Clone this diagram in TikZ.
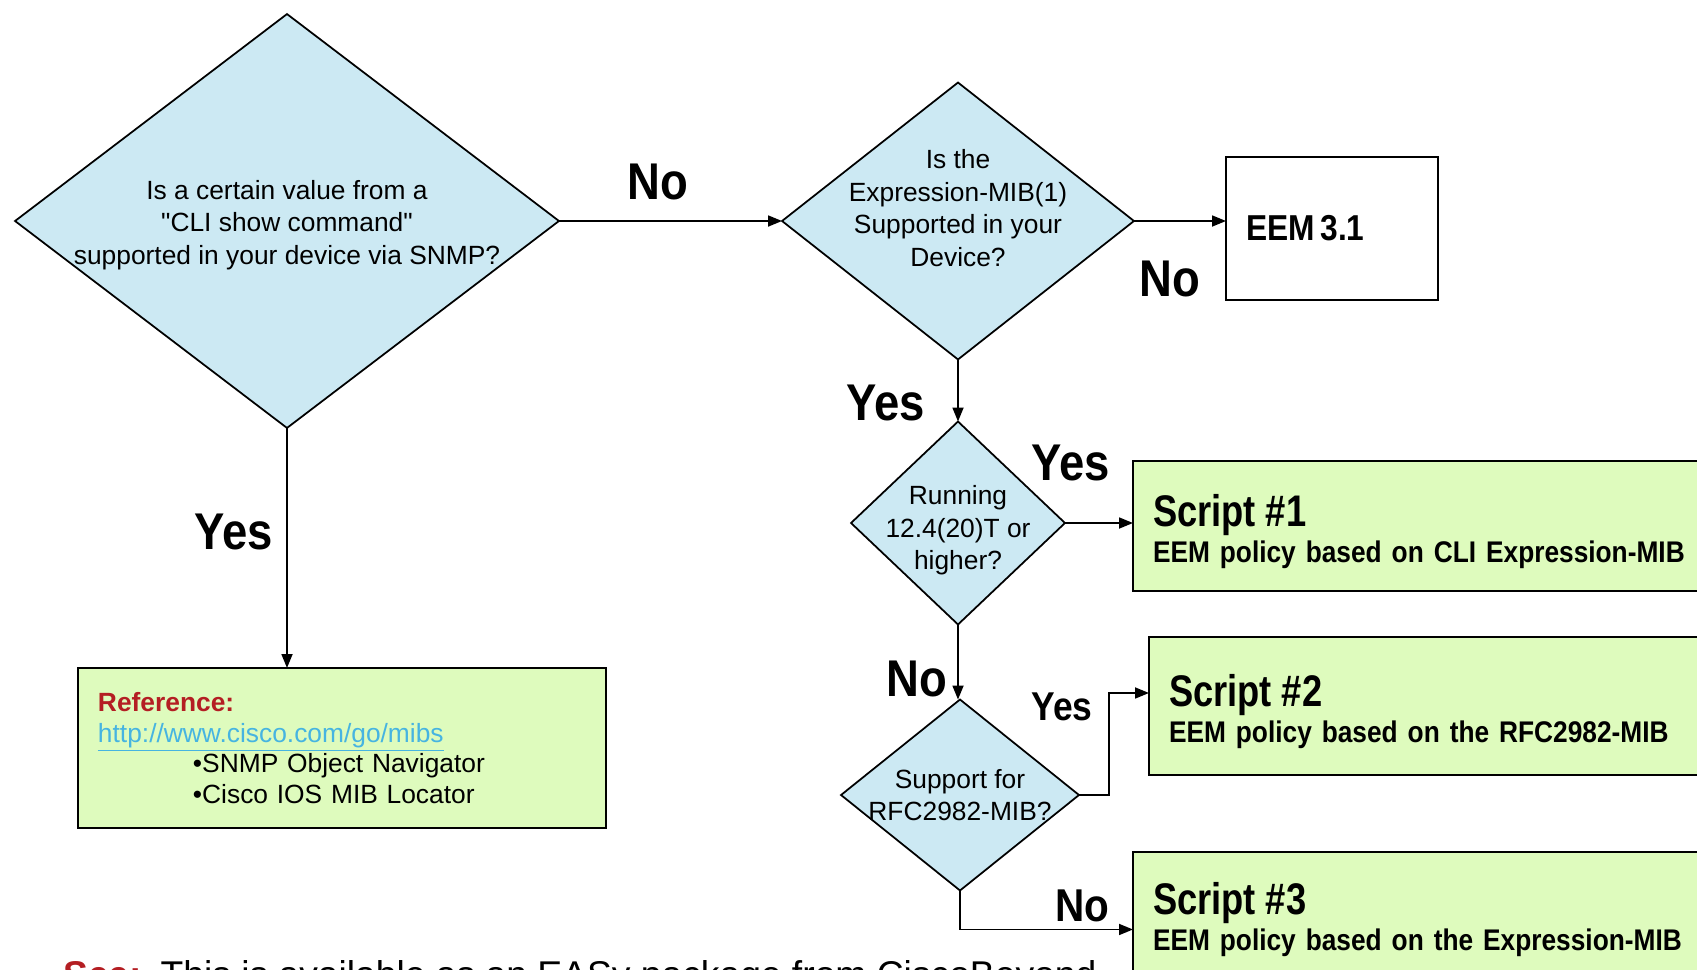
\documentclass[tikz,border=0pt]{standalone}
\usepackage{fontspec}
\setmainfont{Liberation Sans}
\newfontfamily\condsans{Liberation Sans}[FakeStretch = 0.88]
\newfontfamily\narrowsans{Liberation Sans}[FakeStretch = 0.82]
\usetikzlibrary{shapes.geometric, arrows.meta}
\definecolor{askblue}{RGB}{204,233,243}
\definecolor{scriptgreen}{RGB}{222,251,189}
\definecolor{refred}{RGB}{180,30,35}
\definecolor{urlcyan}{RGB}{70,180,225}
\newcommand\scripttitle{\narrowsans\bfseries\fontsize{25.2}{27}\selectfont\rule{0pt}{25pt}}

\begin{document}
\begin{tikzpicture}[x = .02cm, y = -.02cm,
    ask/.style = {diamond, draw, fill = askblue, line width = 1pt,
                  inner sep = 0pt, outer sep = 0pt},
    asktext/.style = {align = center, inner sep = 0pt,
                      font = \fontsize{15}{18.5}\selectfont},
    result/.style = {rectangle, draw, line width = 1pt, inner sep = 0pt,
                     inner xsep = .4cm, outer sep = 0pt,
                     anchor = north west, align = left},
    script/.style = {fill = scriptgreen,
                     font = \condsans\bfseries\fontsize{17}{20.5}\selectfont},
    answer/.style = {inner sep = 0pt,
                     font = \condsans\bfseries\fontsize{29.4}{32}\selectfont},
    flow/.style = {-{Triangle[length = .28cm, width = .22cm]}, line width = 1pt}]
  \useasboundingbox (0,0) rectangle (1697,970);
  \clip (0,0) rectangle (1697,970);

  % decisions
  \node [ask, minimum width = 10.88cm, minimum height = 8.28cm] (d1) at (287,221) {};
  \node [asktext] (d1text) at ([yshift = -.08cm] d1.center)
    {Is a certain value from a\\\textquotedbl CLI show command\textquotedbl\\supported in your device via SNMP?};
  \node [ask, minimum width = 7.04cm, minimum height = 5.54cm] (d2) at (958,221) {};
  \node [asktext] (d2text) at ([yshift = .26cm] d2.center)
    {Is the\\Expression-MIB(1)\\Supported in your\\Device?};
  \node [ask, minimum width = 4.28cm, minimum height = 4.06cm] (d3) at (958,523) {};
  \node [asktext] (d3text) at ([yshift = -.15cm] d3.center)
    {Running\\12.4(20)T or\\higher?};
  \node [ask, minimum width = 4.76cm, minimum height = 3.82cm] (d4) at (960,795) {};
  \node [asktext] (d4text) at (d4) {Support for\\RFC2982-MIB?};

  % outcomes
  \node [result, text width = 3.44cm, minimum height = 2.86cm] (eem) at (1226,157)
    {\condsans\bfseries\fontsize{20.5}{24}\selectfont EEM 3.1};
  \node [result, script, text width = 10.74cm, minimum height = 2.6cm] (s1) at (1133,461)
    {{\scripttitle Script \#1}\\EEM policy based on CLI Expression-MIB};
  \node [result, script, text width = 10.42cm, minimum height = 2.76cm] (s2) at (1149,637)
    {{\scripttitle Script \#2}\\EEM policy based on the RFC2982-MIB};
  \node [result, script, text width = 10.74cm, minimum height = 2.46cm] (s3) at (1133,852)
    {{\scripttitle Script \#3}\\EEM policy based on the Expression-MIB};
  \node [result, fill = scriptgreen, text width = 9.76cm, minimum height = 3.2cm,
         font = \fontsize{15}{17.4}\selectfont] (ref) at (78,668)
    {\textcolor{refred}{\textbf{Reference:}}\\
     \textcolor{urlcyan}{\underline{http://www.cisco.com/go/mibs}}\\
     \hspace*{1.9cm}•SNMP Object Navigator\\
     \hspace*{1.9cm}•Cisco IOS MIB Locator};

  % connectors
  \draw [flow] (d1.east) -- (d2.west);
  \draw [flow] (d2.east) -- (d2.east -| eem.west);
  \draw [flow] (d2.south) -- (d3.north);
  \draw [flow] (d3.east) -- (d3.east -| s1.west);
  \draw [flow] (d3.south) -- (d3.south |- d4.north);
  \draw [flow] (d4.east) -- ++(30,0) |- ([yshift = .26cm] s2.west);
  \draw [flow] (d4.south) |- ([yshift = -.32cm] s3.west);
  \draw [flow] (d1.south) -- (d1.south |- ref.north);

  % answers
  \node [answer] (yes0) at (234,532) {Yes};
  \node [answer] (no1) at (658,182) {No};
  \node [answer] (no2) at (1170,279) {No};
  \node [answer] (yes1) at (886,403) {Yes};
  \node [answer] (yes2) at (1071,463) {Yes};
  \node [answer] (no3) at (917,679) {No};
  \node [answer, font = \condsans\bfseries\fontsize{22.9}{26}\selectfont] (yes3) at (1062,707) {Yes};
  \node [answer, font = \condsans\bfseries\fontsize{26.2}{30}\selectfont] (no4) at (1082,906) {No};

  % note, cut off by the lower edge
  \node [anchor = base west, inner sep = 0pt, font = \fontsize{21.2}{24}\selectfont] (seenote) at (63,987)
    {\textcolor{refred}{\textbf{See:}}\hspace{.5em}This is available as an EASy package from CiscoBeyond};
\end{tikzpicture}
\end{document}
